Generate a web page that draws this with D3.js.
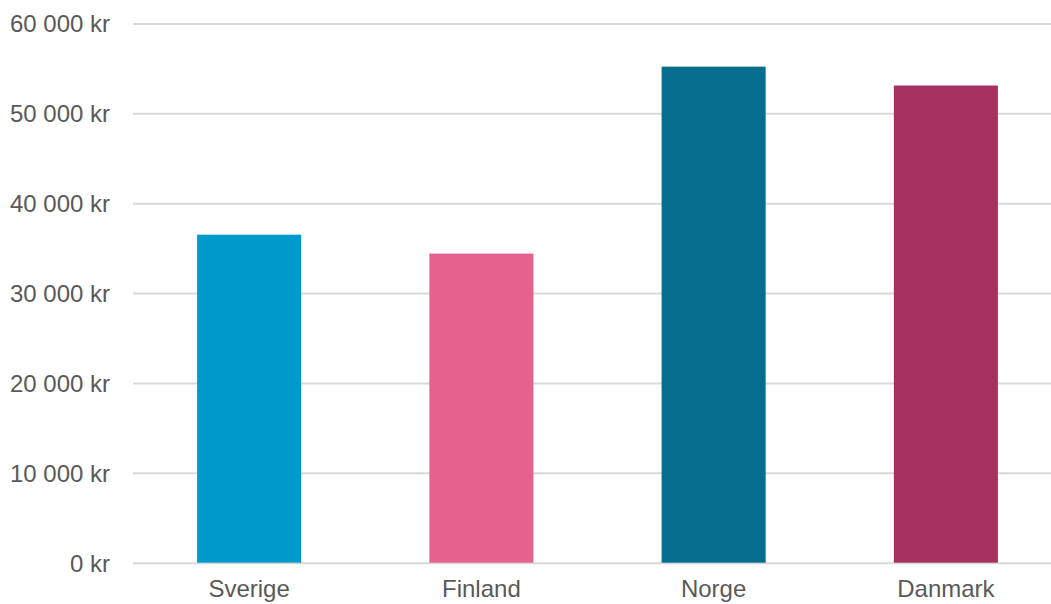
<!DOCTYPE html>
<html>
<head>
<meta charset="utf-8">
<script src="https://cdn.jsdelivr.net/npm/d3@7"></script>
<style>
	body { margin: 0; background: #fff; }
	svg { display: block; font-family: "Liberation Sans", Arial, sans-serif; }
</style>
</head>
<body>
<svg width="1051" height="604"></svg>
<script>
var countries = ["Sverige", "Finland", "Norge", "Danmark"];
var amounts = [36500, 34400, 55200, 53100];
var barColors = ["#0099CC", "#E5628F", "#066D8F", "#A63160"];
var yTicks = [0, 10000, 20000, 30000, 40000, 50000, 60000];

function paint_chart(){
	var svg = d3.select("svg"),
			left = 133,
			right = 1062,
			top = 23.5,
			bottom = 562.7;

	var xScale = d3.scaleBand().domain(countries).range([left, right]).paddingInner(0.552).paddingOuter(0.276),
			yScale = d3.scaleLinear().domain([0, 60000]).range([bottom, top]);

	var fmt = function(d){ return d3.format(",")(d).replace(/,/g, "\u00a0") + " kr"; };

	// gridlines + y labels
	svg.append("g")
	 .attr("transform", "translate(" + left + ",0)")
	 .call(d3.axisLeft(yScale).tickValues(yTicks).tickSize(-(right - left)).tickPadding(23).tickFormat(fmt))
	 .call(function(g){ g.select(".domain").remove(); })
	 .call(function(g){ g.selectAll(".tick line").attr("stroke", "#d9d9d9").attr("stroke-width", 2); })
	 .call(function(g){ g.selectAll(".tick text").attr("fill", "#595959").attr("font-size", "24px").attr("dy", "0.35em"); });

	var g = svg.append("g");
	g.selectAll(".bar")
	 .data(amounts)
	 .enter().append("rect")
	 .attr("class", "bar")
	 .attr("x", function(d, i) { return xScale(countries[i]); })
	 .attr("y", function(d) { return yScale(d); })
	 .attr("width", xScale.bandwidth())
	 .attr("height", function(d) { return bottom - yScale(d); })
	 .attr("fill", function(d, i) { return barColors[i]; });

	// x labels
	svg.append("g")
	 .attr("transform", "translate(0," + bottom + ")")
	 .call(d3.axisBottom(xScale).tickSize(0).tickPadding(17))
	 .call(function(g){ g.select(".domain").remove(); })
	 .call(function(g){ g.selectAll(".tick text").attr("fill", "#595959").attr("font-size", "24px"); });
}

paint_chart();
</script>
</body>
</html>
